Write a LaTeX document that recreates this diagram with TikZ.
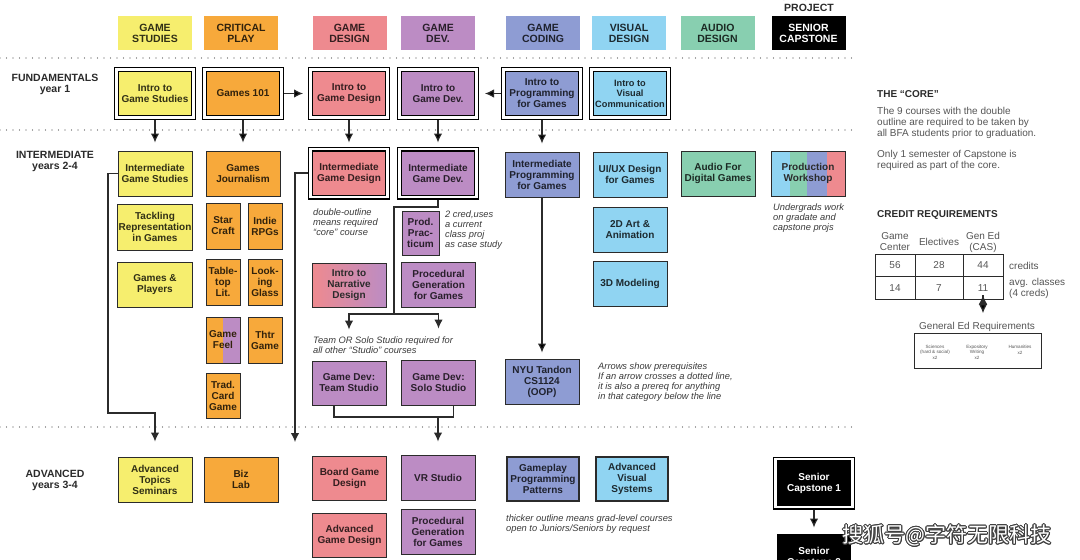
\documentclass[tikz,border=0pt]{standalone}
\usepackage{fontspec}
\setmainfont{Liberation Sans}
\newfontfamily\cjkfont{Noto Sans CJK SC}
\usepackage{contour}
\contourlength{0.8pt}
\usepackage{xcolor}
\usepackage{tikz}
\usetikzlibrary{arrows.meta}
\usetikzlibrary{positioning}

\definecolor{gsyellow}{HTML}{F6EE6E}
\definecolor{cporange}{HTML}{F7A93B}
\definecolor{gdred}{HTML}{EE8A8F}
\definecolor{gvpurple}{HTML}{BC8CC4}
\definecolor{gcblue}{HTML}{8E9CD3}
\definecolor{vdblue}{HTML}{90D4F2}
\definecolor{adgreen}{HTML}{88CFB0}
\definecolor{ink}{HTML}{2B2B2B}
\definecolor{notegray}{HTML}{3A3A3A}
\definecolor{sidegray}{HTML}{555555}

\newcommand{\ccbox}{\bfseries\fontsize{10}{11}\selectfont}
\newcommand{\ccboxsmall}{\bfseries\fontsize{9.2}{10.5}\selectfont}
\newcommand{\cchead}{\bfseries\fontsize{10.5}{11}\selectfont}
\newcommand{\ccnote}{\itshape\fontsize{9.3}{10}\selectfont}
\newcommand{\ccside}{\fontsize{10}{11}\selectfont}
\newcommand{\ccsidehead}{\bfseries\fontsize{10}{11}\selectfont}
\newcommand{\cctiny}{\fontsize{4.6}{5.6}\selectfont}

\tikzset{
    block/.style={
           rectangle,
           draw=ink, line width=1pt,
           minimum width=74pt,
           minimum height=45pt,
           inner sep=1pt,
           align=center,
           font=\ccbox,
           },
    core/.style={
           block,
           draw=black, line width=1.3pt,
           double=white, double distance=2.4pt,
           minimum width=77pt,
           minimum height=48pt,
           outer sep=2.5pt,
           },
    grad/.style={
           block,
           line width=2.4pt,
           minimum width=72pt,
           minimum height=44pt,
           },
    header/.style={
           rectangle,
           minimum width=74pt,
           minimum height=34pt,
           inner sep=1pt,
           align=center,
           font=\cchead,
           },
    frameless/.style={
           inner sep=0pt,
           align=left,
           anchor=west,
           font=\ccnote,
           text=notegray,
           },
    rowline/.style={
           line width=1.2pt,
           draw=black!70,
           dash pattern=on 0pt off 6.5pt,
           line cap=round,
           },
    prereq/.style={
           -{Latex[length=9pt,width=8.5pt]},
           very thick,
           draw=ink,
           },
    gamestud/.style={fill=gsyellow, text=gsyellow!20!black},
    critplay/.style={fill=cporange, text=cporange!20!black},
    gamedes/.style={fill=gdred, text=gdred!22!black},
    gamedev/.style={fill=gvpurple, text=gvpurple!22!black},
    gamecode/.style={fill=gcblue, text=gcblue!22!black},
    visdes/.style={fill=vdblue, text=vdblue!20!black},
    auddes/.style={fill=adgreen, text=adgreen!20!black},
    splitfeel/.style={
           path picture={\fill[gvpurple] (path picture bounding box.north) rectangle (path picture bounding box.south east);},
           },
    stripes/.style={
           fill=vdblue, text=ink,
           path picture={
              \fill[adgreen] ([xshift=19pt]path picture bounding box.north west) rectangle ([xshift=36pt]path picture bounding box.south west);
              \fill[gcblue] ([xshift=36pt]path picture bounding box.north west) rectangle ([xshift=56pt]path picture bounding box.south west);
              \fill[gdred] ([xshift=56pt]path picture bounding box.north west) rectangle (path picture bounding box.south east);
              },
           },
}

\begin{document}
\begin{tikzpicture}[x=1pt, y=-1pt]
	\useasboundingbox (0,0) rectangle (1080,560);
	\fill[white] (0,0) rectangle (1080,560);

	%column heads
	\node[header, gamestud] (hGS) at (155,33) {GAME\\STUDIES};
	\node[header, critplay] (hCP) at (241,33) {CRITICAL\\PLAY};
	\node[header, gamedes] (hGD) at (349.5,33) {GAME\\DESIGN};
	\node[header, gamedev] (hGV) at (438,33) {GAME\\DEV.};
	\node[header, gamecode] (hGC) at (543,33) {GAME\\CODING};
	\node[header, visdes] (hVD) at (629,33) {VISUAL\\DESIGN};
	\node[header, auddes] (hAD) at (717.5,33) {AUDIO\\DESIGN};
	\node[header, fill=black, text=white] (hSC) at (808.5,33) {SENIOR\\CAPSTONE};
	\node[frameless, anchor=center, align=center, font=\cchead, text=ink] (hProj) at (809,2.5) {CAPSTONE\\PROJECT};

	%row labels and dotted lines
	\node[frameless, anchor=center, align=center, font=\cchead, text=ink] (lFund) at (55,84.5) {FUNDAMENTALS\\year 1};
	\node[frameless, anchor=center, align=center, font=\cchead, text=ink] (lInter) at (55,161) {INTERMEDIATE\\years 2-4};
	\node[frameless, anchor=center, align=center, font=\cchead, text=ink] (lAdv) at (55,480.5) {ADVANCED\\years 3-4};
	\draw[rowline] (0,58) -- (857,58);
	\draw[rowline] (0,130) -- (857,130);
	\draw[rowline] (0,427) -- (857,427);

	%fundamentals
	\node[core, gamestud] (fGS) at (155,93.5) {Intro to\\Game Studies};
	\node[core, critplay] (fCP) at (243,93.5) {Games 101};
	\node[core, gamedes] (fGD) at (349,93.5) {Intro to\\Game Design};
	\node[core, gamedev] (fGV) at (438,93.5) {Intro to\\Game Dev.};
	\node[core, gamecode] (fGC) at (542,93.5) {Intro to\\Programming\\for Games};
	\node[core, visdes, font=\ccboxsmall] (fVD) at (630,93.5) {Intro to\\Visual\\Communication};

	%intermediate
	\node[block, gamestud] (iGS) at (155,173.5) {Intermediate\\Game Studies};
	\node[block, critplay] (iCP) at (243,173.5) {Games\\Journalism};
	\node[core, gamedes] (iGD) at (349,173) {Intermediate\\Game Design};
	\node[core, gamedev] (iGV) at (438,173) {Intermediate\\Game Dev.};
	\node[block, gamecode] (iGC) at (542,174.5) {Intermediate\\Programming\\for Games};
	\node[block, visdes] (iVD) at (630,174.5) {UI/UX Design\\for Games};
	\node[block, auddes] (iAD) at (718,173.5) {Audio For\\Digital Games};
	\node[block, stripes] (iPW) at (808,173.5) {Production\\Workshop};
	\node[frameless] (pwNote) at (773,218) {Undergrads work\\on gradate and\\capstone projs};

	%game studies column
	\node[block, gamestud, minimum width=75pt, minimum height=46pt, below=7pt of iGS] (gsTack) {Tackling\\Representation\\in Games};
	\node[block, gamestud, minimum width=75pt, below=11pt of gsTack] (gsPlay) {Games \&\\Players};

	%critical play column
	\tikzset{cpwidth/.style={minimum width=34pt, minimum height=46pt},};
	\node[block, critplay, cpwidth] (cpStar) at (223,226) {Star\\Craft};
	\node[block, critplay, cpwidth, right=7pt of cpStar] (cpIndie) {Indie\\RPGs};
	\node[block, critplay, cpwidth, below=9pt of cpStar] (cpTable) {Table-\\top\\Lit.};
	\node[block, critplay, cpwidth, right=7pt of cpTable] (cpLook) {Look-\\ing\\Glass};
	\node[block, critplay, cpwidth, splitfeel, below=11pt of cpTable] (cpFeel) {Game\\Feel};
	\node[block, critplay, cpwidth, right=7pt of cpFeel] (cpThtr) {Thtr\\Game};
	\node[block, critplay, cpwidth, minimum height=45pt, below=9pt of cpFeel] (cpCard) {Trad.\\Card\\Game};

	%game design and game dev columns
	\node[frameless] (gdNote) at (313,222) {double-outline\\means required\\“core” course};
	\node[block, left color=gdred, right color=gvpurple, text=ink, minimum height=44pt] (gdNarr) at (349,285) {Intro to\\Narrative\\Design};
	\node[frameless] (gdStudioNote) at (313,345) {Team OR Solo Studio required for\\all other “Studio” courses};
	\node[block, gamedev, minimum height=44pt] (gdTeam) at (349,383) {Game Dev:\\Team Studio};

	\node[block, gamedev, minimum width=37pt, minimum height=44pt] (gvProd) at (420.5,233) {Prod.\\Prac-\\ticum};
	\node[frameless] (gvNote) at (445,230.5) {2 cred,uses\\a current\\class proj\\as case study};
	\node[block, gamedev] (gvProc) at (438.5,284.5) {Procedural\\Generation\\for Games};
	\node[block, gamedev] (gvSolo) at (438.5,382.5) {Game Dev:\\Solo Studio};

	%coding and visual columns
	\node[block, gamecode] (gcNYU) at (542,381.5) {NYU Tandon\\CS1124\\(OOP)};
	\node[frameless] (gcNote) at (598,382) {Arrows show prerequisites\\If an arrow crosses a dotted line,\\it is also a prereq for anything\\in that category below the line};
	\node[block, visdes] (vd2D) at (630,229.5) {2D Art \&\\Animation};
	\node[block, visdes, below=8pt of vd2D] (vd3D) {3D Modeling};

	%advanced
	\node[block, gamestud] (aGS) at (155,479.5) {Advanced\\Topics\\Seminars};
	\node[block, critplay] (aCP) at (241,479.5) {Biz\\Lab};
	\node[block, gamedes, minimum height=44pt] (aGD1) at (349.5,478) {Board Game\\Design};
	\node[block, gamedes, minimum height=44pt, below=12pt of aGD1] (aGD2) {Advanced\\Game Design};
	\node[block, gamedev] (aGV1) at (438,477.5) {VR Studio};
	\node[block, gamedev, below=8pt of aGV1] (aGV2) {Procedural\\Generation\\for Games};
	\node[grad, gamecode] (aGC) at (543,479) {Gameplay\\Programming\\Patterns};
	\node[grad, visdes] (aVD) at (632,479) {Advanced\\Visual\\Systems};
	\node[frameless] (gradNote) at (506,524) {thicker outline means grad-level courses\\open to Juniors/Seniors by request};
	\node[core, fill=black, text=white] (aSC1) at (814,483) {Senior\\Capstone 1};
	\node[block, fill=black, text=white, draw=black, minimum width=73pt, minimum height=46pt] (aSC2) at (814,557) {Senior\\Capstone 2};

	%the core and credits
	\node[frameless, font=\ccsidehead, text=ink] (coreTitle) at (877,94) {THE “CORE”};
	\node[frameless, font=\ccside, text=sidegray] (coreBody) at (877,123) {The 9 courses with the double\\outline are required to be taken by\\all BFA students prior to graduation.};
	\node[frameless, font=\ccside, text=sidegray] (coreOnly) at (877,160.5) {Only 1 semester of Capstone is\\required as part of the core.};
	\node[frameless, font=\ccsidehead, text=ink] (creditTitle) at (877,215) {CREDIT REQUIREMENTS};

	\tikzset{cell/.style={draw=ink, line width=1pt, minimum height=22.5pt, inner sep=0pt, outer sep=0pt, font=\ccside, text=sidegray},};
	\node[cell, minimum width=40pt] (c11) at (895,265.5) {56};
	\node[cell, minimum width=48pt, right=0pt of c11] (c12) {28};
	\node[cell, minimum width=40pt, right=0pt of c12] (c13) {44};
	\node[cell, minimum width=40pt, below=0pt of c11] (c21) {14};
	\node[cell, minimum width=48pt, below=0pt of c12] (c22) {7};
	\node[cell, minimum width=40pt, below=0pt of c13] (c23) {11};
	\node[frameless, anchor=center, align=center, font=\ccside, text=sidegray] (tGC) at (895,242) {Game\\Center};
	\node[frameless, anchor=center, align=center, font=\ccside, text=sidegray] (tEl) at (939,242) {Electives};
	\node[frameless, anchor=center, align=center, font=\ccside, text=sidegray] (tGE) at (983,242) {Gen Ed\\(CAS)};
	\node[frameless, font=\ccside, text=sidegray] (tCred) at (1009,266) {credits};
	\node[frameless, font=\ccside, text=sidegray] (tAvg) at (1009,288.5) {avg. classes\\(4 creds)};

	\node[frameless, anchor=center, font=\ccside, text=sidegray] (geLbl) at (977,327) {General Ed Requirements};
	\node[draw=ink, line width=1pt, minimum width=127pt, minimum height=35pt] (geBox) at (977.5,350.5) {};
	\node[frameless, anchor=center, align=center, font=\cctiny, text=sidegray] (geSci) at (935,352) {Sciences\\(hard \& social)\\x2};
	\node[frameless, anchor=center, align=center, font=\cctiny, text=sidegray] (geWri) at (977,352) {Expository\\Writing\\x2};
	\node[frameless, anchor=center, align=center, font=\cctiny, text=sidegray] (geHum) at (1020,350) {Humanities\\x2};

	\node[font=\cjkfont\fontsize{21}{21}\selectfont, text=white, inner sep=0pt] (mark) at (947,536) {\contour{black!75}{搜狐号@字符无限科技}};

	%EDGES
	\path[prereq]	(fCP) edge[shorten >=5pt] (fGD)
			(fGC) edge[shorten >=6pt] (fGV);
	\path[prereq]	(fGS) edge[shorten >=8pt] (iGS)
			(fCP) edge[shorten >=8pt] (iCP)
			(fGD) edge[shorten >=4pt] (iGD)
			(fGV) edge[shorten >=4pt] (iGV)
			(fGC) edge[shorten >=8pt] (iGC);
	\path[prereq]	(iGC) edge[shorten >=6pt] (gcNYU)
			(aSC1) edge[shorten >=6pt] (aSC2);

	\coordinate (gsTurn) at (108,413);
	\coordinate (gdDrop) at (295,442);
	\coordinate (gvKnee) at (394,207);
	\coordinate (gvFork) at (394,314);
	\coordinate (stMerge) at (438,417);

	\draw[prereq, shorten >=15pt] (iGS.west) -| (gsTurn) -| (aGS.north);
	\draw[prereq] (iGD.west) -| (gdDrop);
	\draw[very thick, ink] (iGV.south) |- (gvKnee) -- (gvFork);
	\draw[prereq, shorten >=31pt] (gvFork) -| (gdTeam.north);
	\draw[prereq, shorten >=31pt] (gvFork) -| (gvSolo.north);
	\draw[very thick, ink] ([xshift=-15pt]gdTeam.south) |- (stMerge) -| ([xshift=15pt]gvSolo.south);
	\draw[prereq, shorten >=13pt] (stMerge) -- (stMerge |- aGV1.north);

	\path[prereq]	([yshift=4pt]c23.south) edge[shorten >=9pt] (c23.south |- geLbl.north);

\end{tikzpicture}
\end{document}
